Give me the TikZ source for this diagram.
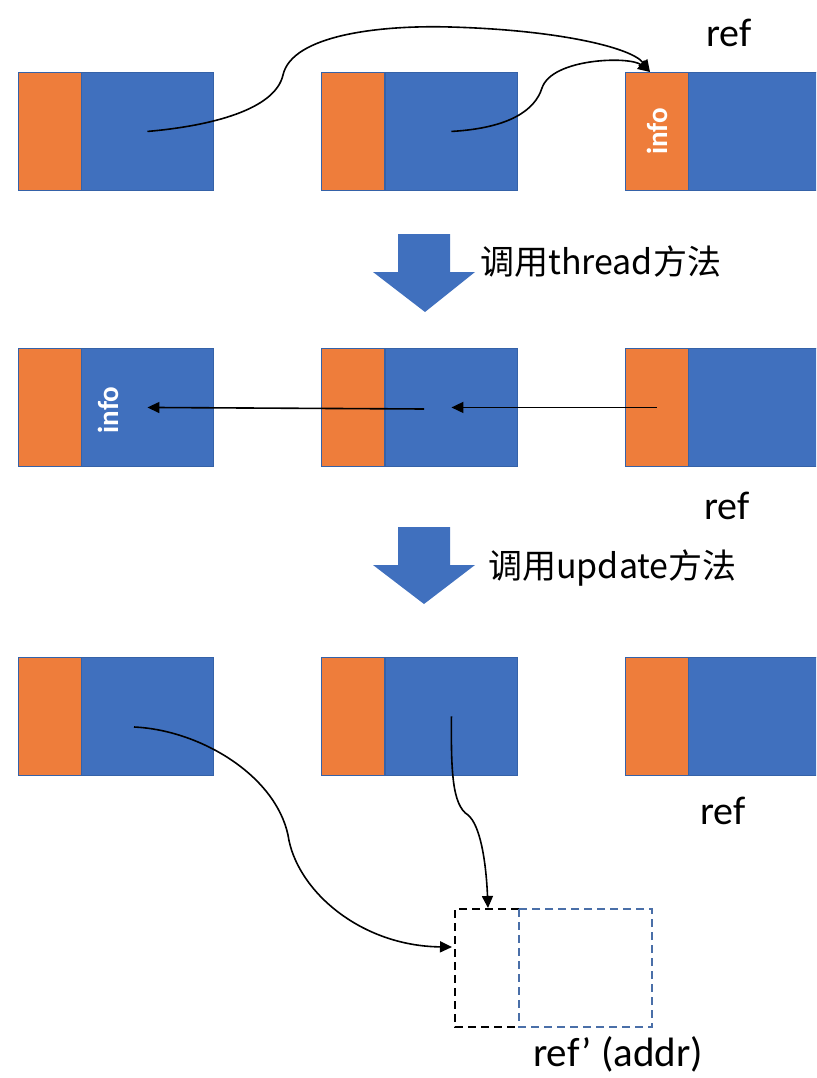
\documentclass[tikz,border=0pt]{standalone}
\usepackage{fontspec}
\setmainfont{Carlito}
\newfontfamily\cjk{Noto Sans CJK SC}
\usetikzlibrary{arrows.meta}

\definecolor{cellorange}{HTML}{EE7D3B}
\definecolor{cellblue}{HTML}{4070BE}
\definecolor{celledge}{HTML}{3562A8}
\definecolor{dashblue}{HTML}{4A6FA8}

\tikzset{
  cell/.style={draw=celledge, line width=0.9pt, inner sep=0pt, anchor=north west,
    minimum height=118pt},
  infocell/.style={cell, fill=cellorange, minimum width=63pt},
  datacell/.style={cell, fill=cellblue, minimum width=132pt},
  link/.style={line width=1.6pt, -{Triangle[length=12pt, width=11pt]}},
  bigarrow/.style={fill=cellblue, draw=none},
  reflabel/.style={font=\fontsize{40}{44}\selectfont, anchor=base west, inner sep=0pt},
  steplabel/.style={font=\cjk\fontsize{34}{38}\selectfont, anchor=west, inner sep=0pt},
  infolabel/.style={font=\bfseries\fontsize{29}{32}\selectfont, text=white, rotate=90, inner sep=0pt},
  pending/.style={dashed, dash pattern=on 8pt off 5pt, line width=1.3pt}
}

\begin{document}
\begin{tikzpicture}[x=1pt, y=-1pt]
\useasboundingbox (0,0) rectangle (816,1078);
\clip (0,0) rectangle (816,1078);

% three rows of list cells: orange info slot + blue data slot
\foreach \r/\top in {1/72, 2/348, 3/657} {
  \node[infocell] (o\r1) at (18,\top) {};
  \node[datacell] (b\r1) at (81,\top) {};
  \node[infocell] (o\r2) at (321,\top) {};
  \node[datacell] (b\r2) at (385,\top) {};
  \node[infocell] (o\r3) at (625,\top) {};
  \node[datacell, minimum width=150pt] (b\r3) at (688,\top) {};
}

% row 1: both cells point at the ref cell
\node[reflabel] (ref1) at (706,47) {ref};
\node[infolabel] (info1) at (o13.center) {info};
\coordinate (top1) at (650,72);
\draw[link] (b11.center) .. controls (210,126) and (275,110) .. (283,75)
  .. controls (292,35) and (380,25) .. (450,27)
  .. controls (560,30) and (632,48) .. (top1);
\draw[link] (b12.center) .. controls (510,128) and (535,110) .. (542,88)
  .. controls (552,58) and (630,56) .. (top1);

% thread step
\path[bigarrow] (398,234) -- (450,234) -- (450,272) -- (475,272) -- (425,312)
  -- (373,272) -- (398,272) -- cycle;
\node[steplabel] (step1) at (480,262) {调用thread方法};

% row 2: threaded back-links
\node[infolabel] (info2) at (108,410) {info};
\coordinate (mid2) at (424,409);
\draw[link] (o23.center) -- (b22.center);
\draw[link] (mid2) -- (b21.center);
\node[reflabel] (ref2) at (704,519) {ref};

% update step
\path[bigarrow] (398,527) -- (450,527) -- (450,565) -- (475,565) -- (424,604)
  -- (373,565) -- (398,565) -- cycle;
\node[steplabel] (step2) at (488,568) {调用update方法};

% row 3: pointers redirected to the new address
\node[reflabel] (ref3) at (700,824) {ref};
\coordinate (src3) at (134,727);
\draw[pending] (519,909) -- (455,909) -- (455,1027) -- (519,1027);
\draw[pending, draw=dashblue] (519,909) rectangle (652,1027);
\coordinate (newleft) at (452,947);
\coordinate (newtop) at (488,908);
\draw[link] (src3) .. controls (200,730) and (275,775) .. (288,835)
  .. controls (296,890) and (360,946) .. (newleft);
\draw[link] (b32.center) .. controls (451,770) and (452,805) .. (468,815)
  .. controls (480,825) and (486,860) .. (newtop);
\node[reflabel, font=\fontsize{41}{45}\selectfont] (refnew) at (533,1066) {ref’ (addr)};
\end{tikzpicture}
\end{document}
